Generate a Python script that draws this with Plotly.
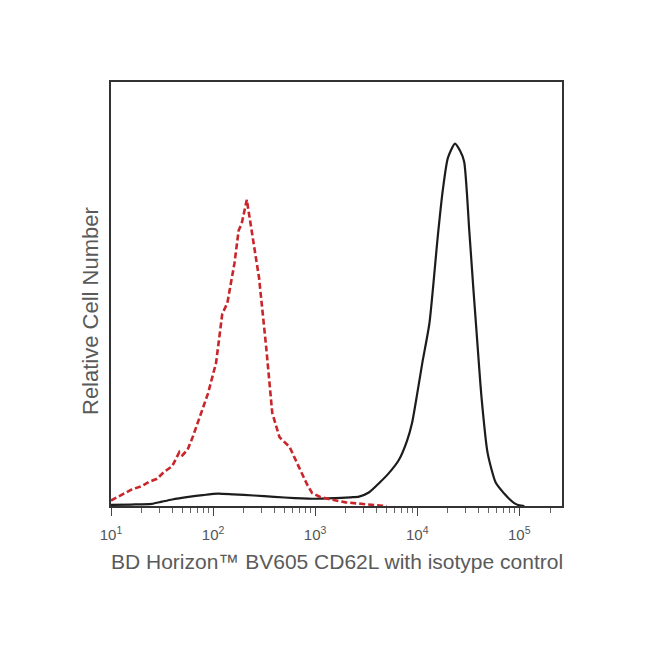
import plotly.graph_objects as go

# Isotype control (red dashed)
red_x = [10, 12.6, 15.8, 20, 23.4, 28.2, 33.1, 39.8, 46.8, 50.1, 56.2, 63.1, 72.4, 89.1,
         107, 123, 138, 162, 178, 191, 214, 240, 282, 331, 380, 447, 562, 692, 832, 933,
         1122, 1479, 1995, 2818, 3981, 5012]
red_y = [1.5, 3, 4.5, 5.5, 6.6, 7.5, 9.4, 11, 14.9, 14, 15.5, 19, 23.8, 31,
         39.5, 53, 56, 67, 76, 78, 84.5, 75, 63, 44, 25.7, 19, 16.3, 10.8, 6, 3.6,
         2.5, 1.7, 1.0, 0.6, 0.3, 0]

# BV605 CD62L (black solid)
black_x = [10, 15.8, 25.1, 31.6, 39.8, 57.5, 79.4, 112, 158, 251, 398, 631, 1000, 1585,
           2239, 2692, 3388, 4266, 5248, 6607, 7943, 8913, 10000, 11220, 13183, 15849,
           17783, 19953, 23442, 26303, 28840, 32359, 35481, 38019, 42658, 48978, 58884,
           70795, 79433, 89125, 100000, 112202]
black_y = [0.3, 0.4, 0.6, 1.2, 1.8, 2.5, 3.0, 3.4, 3.2, 2.9, 2.5, 2.2, 2.0, 2.2,
           2.4, 2.6, 3.8, 6.4, 9, 12.7, 18, 23, 31, 39.5, 50.5, 74,
           87, 96, 100, 98, 95, 76, 60, 48.6, 30, 14.6, 6.4,
           3.5, 2.0, 0.8, 0.2, 0]

tick_vals = [10, 100, 1000, 10000, 100000]
tick_text = ["10<sup>1</sup>", "10<sup>2</sup>", "10<sup>3</sup>", "10<sup>4</sup>", "10<sup>5</sup>"]
minor_vals = [m * d for d in [10, 100, 1000, 10000, 100000] for m in range(2, 10)]

x_title = "BD Horizon™ BV605 CD62L with isotype control"
y_title = "Relative Cell Number"

fig = go.Figure()
fig.add_trace(go.Scatter(x=black_x, y=black_y, mode="lines",
                         line=dict(color="#1c1c1c", width=2.2, shape="spline", smoothing=0.6)))
fig.add_trace(go.Scatter(x=red_x, y=red_y, mode="lines",
                         line=dict(color="#c8262b", width=2.6, dash="6px,3px")))

font_family = "Liberation Sans, Arial, sans-serif"
fig.update_layout(
    width=642, height=647,
    margin=dict(l=103, r=88, t=74, b=149),
    paper_bgcolor="white", plot_bgcolor="white",
    showlegend=False,
    font=dict(family=font_family, color="#555555"),
    xaxis=dict(type="log", range=[1, 5.4185],
               tickvals=tick_vals, ticktext=tick_text,
               ticks="outside", ticklen=8, tickwidth=1.2, tickcolor="#444",
               ticklabelstandoff=6,
               tickfont=dict(size=15, color="#555555"),
               showgrid=False, zeroline=False,
               showline=True, linecolor="#333333", linewidth=2, mirror=True,
               minor=dict(tickvals=minor_vals, ticks="outside", ticklen=5,
                          tickcolor="#666", tickwidth=1, showgrid=False)),
    yaxis=dict(range=[0, 117], showticklabels=False, ticks="",
               showgrid=False, zeroline=False,
               showline=True, linecolor="#333333", linewidth=2, mirror=True),
)
fig.add_annotation(text=x_title, xref="paper", yref="paper", x=0.5, y=0,
                   yshift=-55, showarrow=False, xanchor="center", yanchor="middle",
                   font=dict(size=21, color="#5a5a5a", family=font_family))
fig.add_annotation(text=y_title, xref="paper", yref="paper", x=0, y=0.5,
                   xshift=-21, yshift=-17, showarrow=False, textangle=-90,
                   xanchor="center", yanchor="middle",
                   font=dict(size=22, color="#5a5a5a", family=font_family))
fig.write_html("out.html")
